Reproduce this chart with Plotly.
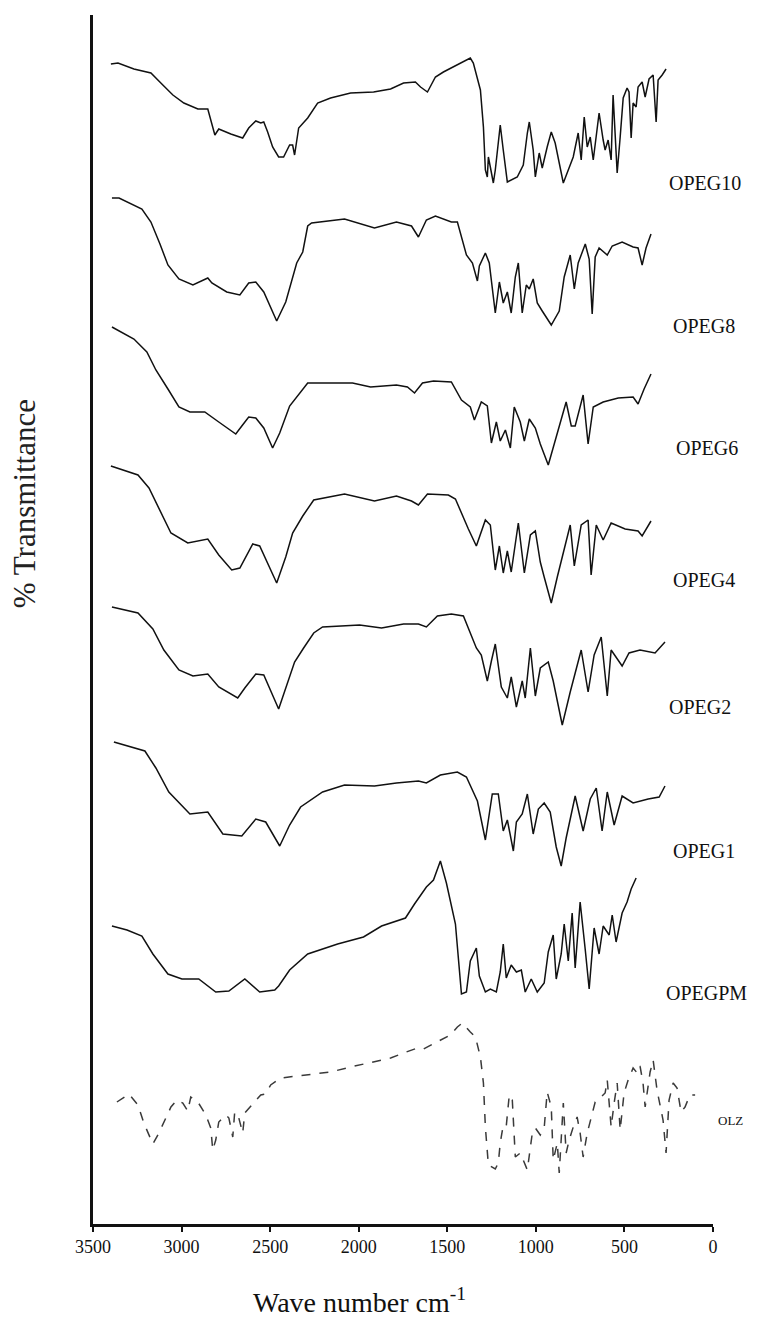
import plotly.graph_objects as go

# ---------------- data (wavenumber cm-1, stacked % transmittance units) ----------------
labels = ["OPEG10", "OPEG8", "OPEG6", "OPEG4", "OPEG2", "OPEG1", "OPEGPM", "OLZ"]

opeg10_wn = [3399, 3359, 3269, 3173, 3117, 3049, 2987, 2908, 2852, 2835, 2812, 2790, 2722, 2655, 2621, 2581, 2553, 2536, 2514, 2486, 2452, 2424, 2390, 2373, 2362, 2339, 2288, 2232, 2159, 2046, 1916, 1820, 1747, 1680, 1651, 1612, 1567, 1522, 1465, 1370, 1353, 1313, 1296, 1285, 1274, 1268, 1257, 1240, 1229, 1201, 1184, 1161, 1105, 1071, 1048, 1037, 1015, 1003, 981, 964, 936, 913, 891, 845, 789, 761, 744, 727, 710, 693, 676, 659, 643, 620, 609, 592, 575, 564, 541, 524, 507, 485, 474, 462, 451, 434, 423, 400, 383, 361, 338, 321, 310, 287, 265]
opeg10_t = [116.0, 116.1, 115.5, 115.1, 114.1, 112.9, 112.1, 111.5, 111.5, 110.4, 108.9, 109.5, 109.0, 108.6, 109.6, 110.3, 110.1, 110.2, 109.2, 107.7, 106.7, 106.7, 107.9, 107.9, 106.9, 109.6, 110.6, 112.1, 112.6, 113.1, 113.2, 113.5, 114.1, 114.2, 113.7, 113.2, 114.7, 115.2, 115.7, 116.6, 116.1, 113.4, 109.7, 105.4, 104.7, 106.7, 105.7, 104.1, 105.4, 109.9, 107.4, 104.2, 104.7, 105.9, 109.1, 110.2, 107.4, 104.7, 107.1, 105.6, 107.7, 109.2, 108.1, 104.1, 106.7, 109.1, 106.4, 110.7, 107.7, 108.7, 106.4, 108.7, 111.1, 108.4, 107.4, 108.4, 106.4, 112.9, 105.1, 108.7, 112.6, 113.6, 113.2, 108.6, 112.1, 111.7, 113.7, 114.2, 112.7, 114.5, 114.9, 110.2, 114.4, 114.9, 115.5]

opeg8_wn = [3393, 3353, 3224, 3173, 3122, 3077, 3015, 2936, 2852, 2829, 2745, 2671, 2621, 2581, 2536, 2463, 2412, 2350, 2316, 2288, 2266, 2080, 1911, 1787, 1702, 1663, 1618, 1567, 1477, 1443, 1392, 1358, 1330, 1319, 1285, 1263, 1229, 1206, 1184, 1161, 1139, 1116, 1099, 1077, 1054, 1037, 1015, 992, 964, 913, 868, 840, 806, 783, 761, 721, 699, 682, 665, 643, 597, 569, 513, 451, 423, 400, 378, 350]
opeg8_t = [102.6, 102.6, 101.5, 100.2, 98.0, 95.9, 94.5, 93.9, 94.6, 94.1, 93.2, 92.9, 94.1, 94.2, 93.2, 90.3, 92.2, 96.1, 97.2, 99.8, 100.1, 100.5, 99.6, 100.2, 99.8, 98.7, 100.4, 100.8, 100.2, 100.2, 96.9, 96.1, 94.3, 95.8, 97.1, 96.1, 91.1, 94.2, 92.1, 93.2, 91.1, 94.7, 96.1, 91.1, 93.9, 93.5, 94.5, 92.1, 91.3, 89.9, 91.3, 94.7, 96.9, 93.5, 96.1, 98.0, 96.5, 91.0, 96.7, 97.6, 96.9, 97.8, 98.2, 97.7, 97.6, 95.9, 97.6, 99.0]

opeg6_wn = [3393, 3269, 3196, 3145, 3077, 3015, 2953, 2869, 2790, 2694, 2660, 2621, 2581, 2536, 2486, 2446, 2390, 2362, 2316, 2288, 2035, 1933, 1787, 1725, 1685, 1640, 1578, 1477, 1420, 1370, 1347, 1308, 1274, 1251, 1223, 1201, 1172, 1144, 1122, 1088, 1065, 1037, 1003, 975, 930, 891, 829, 800, 778, 733, 705, 676, 620, 535, 451, 423, 389, 350]
opeg6_t = [89.7, 88.5, 87.2, 85.4, 83.5, 81.7, 81.2, 81.2, 80.2, 79.0, 79.8, 80.7, 80.6, 79.6, 77.6, 79.1, 81.8, 82.4, 83.5, 84.1, 84.1, 83.7, 83.9, 83.7, 83.1, 84.1, 84.3, 84.2, 82.4, 81.7, 80.4, 82.2, 81.8, 78.1, 80.2, 78.3, 79.4, 77.6, 81.7, 80.2, 78.3, 80.5, 79.6, 78.0, 75.9, 78.3, 82.2, 79.8, 79.8, 82.9, 78.0, 81.7, 82.2, 82.6, 82.7, 82.0, 83.5, 85.0]

opeg4_wn = [3399, 3246, 3184, 3122, 3060, 2965, 2852, 2790, 2717, 2671, 2598, 2559, 2463, 2412, 2373, 2316, 2254, 2080, 1911, 1787, 1702, 1663, 1612, 1494, 1454, 1381, 1336, 1285, 1257, 1229, 1206, 1184, 1161, 1139, 1099, 1065, 1031, 1003, 975, 953, 913, 879, 806, 783, 744, 705, 688, 659, 620, 575, 496, 423, 400, 350]
opeg4_t = [75.8, 74.9, 73.6, 71.4, 69.1, 68.1, 68.5, 66.9, 65.4, 65.6, 68.0, 67.8, 64.1, 66.7, 69.1, 70.8, 72.4, 73.0, 72.3, 72.8, 72.3, 71.9, 73.0, 72.9, 72.5, 69.5, 67.8, 70.4, 69.9, 65.4, 67.8, 65.1, 67.3, 65.2, 70.1, 65.1, 68.9, 69.3, 66.2, 64.7, 62.1, 64.7, 69.9, 65.8, 69.9, 70.4, 64.9, 69.9, 68.4, 70.1, 69.5, 69.3, 68.8, 70.3]

opeg2_wn = [3393, 3246, 3162, 3100, 3015, 2936, 2852, 2790, 2683, 2643, 2581, 2536, 2452, 2412, 2362, 2311, 2254, 2204, 1995, 1871, 1747, 1663, 1618, 1556, 1477, 1409, 1336, 1308, 1274, 1251, 1229, 1195, 1161, 1139, 1110, 1077, 1060, 1031, 1003, 975, 930, 902, 851, 806, 744, 705, 671, 631, 597, 575, 513, 474, 412, 327, 271]
opeg2_t = [61.7, 61.1, 59.5, 57.4, 55.4, 54.8, 55.0, 53.7, 52.6, 53.6, 55.0, 54.9, 51.5, 53.6, 56.2, 57.6, 59.1, 59.7, 59.9, 59.6, 60.0, 60.0, 59.7, 60.8, 61.0, 60.8, 57.6, 56.9, 54.3, 56.3, 58.0, 53.7, 52.6, 54.7, 51.7, 54.3, 52.6, 57.6, 52.8, 55.6, 56.2, 54.3, 49.9, 53.2, 57.4, 53.2, 56.9, 58.7, 52.8, 57.4, 55.8, 57.1, 57.4, 57.1, 58.2]

opeg1_wn = [3382, 3207, 3145, 3072, 2953, 2852, 2767, 2660, 2581, 2525, 2446, 2390, 2328, 2204, 2080, 1911, 1787, 1663, 1618, 1539, 1443, 1392, 1330, 1285, 1246, 1212, 1184, 1161, 1127, 1110, 1077, 1048, 1015, 986, 953, 919, 885, 857, 829, 778, 733, 693, 659, 626, 597, 558, 513, 451, 366, 304, 271]
opeg1_t = [48.2, 47.3, 45.6, 43.2, 41.0, 41.2, 39.0, 38.8, 40.5, 40.2, 37.8, 39.9, 41.7, 43.2, 43.9, 43.8, 44.1, 44.3, 44.1, 44.9, 45.2, 44.7, 42.3, 38.4, 43.0, 43.0, 39.3, 40.4, 37.3, 40.2, 41.0, 43.0, 39.0, 41.5, 42.1, 41.2, 37.7, 35.8, 38.6, 42.8, 39.3, 42.5, 43.6, 39.3, 43.2, 39.9, 42.8, 42.1, 42.5, 42.7, 43.8]

opegpm_wn = [3393, 3308, 3224, 3162, 3077, 2998, 2903, 2807, 2733, 2643, 2559, 2474, 2452, 2390, 2288, 2119, 1973, 1871, 1736, 1685, 1618, 1578, 1539, 1505, 1454, 1420, 1392, 1370, 1336, 1319, 1285, 1257, 1223, 1201, 1184, 1167, 1139, 1110, 1082, 1060, 1026, 992, 953, 930, 902, 885, 857, 840, 817, 795, 778, 750, 721, 699, 671, 643, 620, 586, 569, 547, 513, 485, 462, 434]
opegpm_t = [29.8, 29.4, 28.8, 27.0, 25.0, 24.5, 24.5, 23.2, 23.3, 24.5, 23.2, 23.4, 23.8, 25.4, 27.0, 28.0, 28.7, 29.8, 30.6, 32.0, 33.7, 34.4, 36.3, 34.1, 30.0, 23.0, 23.2, 26.3, 27.6, 24.8, 23.2, 23.5, 23.2, 25.2, 28.0, 24.6, 25.9, 25.2, 25.4, 23.2, 24.5, 23.2, 24.1, 27.2, 28.9, 24.5, 27.0, 30.0, 26.3, 31.1, 25.6, 32.2, 27.4, 23.5, 29.6, 27.0, 29.8, 28.9, 30.9, 28.2, 31.1, 32.2, 33.5, 34.6]

olz_wn = [3365, 3297, 3246, 3213, 3162, 3128, 3060, 3027, 2993, 2965, 2948, 2908, 2863, 2835, 2824, 2807, 2790, 2750, 2733, 2711, 2700, 2677, 2655, 2643, 2593, 2553, 2525, 2497, 2440, 2288, 2159, 2046, 1950, 1820, 1747, 1668, 1635, 1556, 1482, 1443, 1415, 1370, 1341, 1313, 1296, 1285, 1268, 1229, 1212, 1201, 1184, 1167, 1150, 1133, 1116, 1088, 1071, 1048, 1020, 1003, 975, 953, 936, 913, 902, 879, 868, 845, 829, 812, 789, 767, 750, 733, 710, 682, 665, 637, 609, 597, 575, 558, 541, 524, 502, 479, 451, 428, 412, 395, 383, 355, 338, 316, 299, 282, 265, 248, 225, 203, 180, 158, 130, 101]
olz_t = [12.2, 13.0, 11.9, 10.1, 8.0, 9.1, 11.7, 12.4, 12.1, 11.3, 12.7, 12.2, 10.9, 9.6, 7.4, 8.4, 10.2, 10.9, 10.6, 8.7, 11.2, 10.6, 9.1, 11.1, 12.1, 12.9, 13.0, 13.9, 14.6, 14.9, 15.2, 15.7, 16.1, 16.6, 17.1, 17.6, 17.5, 18.2, 18.9, 19.7, 20.1, 19.2, 18.7, 16.7, 14.1, 9.7, 5.9, 5.5, 6.1, 8.1, 9.9, 9.8, 12.9, 12.4, 6.7, 7.1, 6.4, 5.4, 9.1, 9.6, 8.9, 9.6, 13.2, 11.7, 6.4, 8.1, 5.1, 12.1, 7.1, 8.4, 9.7, 10.7, 9.1, 6.7, 9.1, 11.1, 12.2, 12.6, 13.1, 14.4, 9.7, 12.1, 14.1, 9.4, 13.1, 14.4, 15.6, 15.1, 15.8, 14.1, 11.7, 15.2, 16.4, 13.4, 11.7, 10.4, 7.1, 12.4, 14.1, 13.6, 11.2, 11.7, 12.9, 12.9]

x_ticks = [3500, 3000, 2500, 2000, 1500, 1000, 500, 0]

series = [
    (opeg10_wn, opeg10_t), (opeg8_wn, opeg8_t), (opeg6_wn, opeg6_t), (opeg4_wn, opeg4_t),
    (opeg2_wn, opeg2_t), (opeg1_wn, opeg1_t), (opegpm_wn, opegpm_t), (olz_wn, olz_t),
]

# label placement (paper x, data y)
label_pos = [(0.925, 104.1), (0.932, 89.8), (0.937, 77.6), (0.932, 64.4),
             (0.926, 51.7), (0.932, 37.3), (0.921, 23.1), (1.005, 10.4)]

fig = go.Figure()
for i, (wn, t) in enumerate(series):
    is_olz = labels[i] == "OLZ"
    fig.add_trace(go.Scatter(
        x=wn, y=t, mode="lines", name=labels[i],
        line=dict(color="#3a3a3a" if is_olz else "#111111",
                  width=1.5, dash="dash" if is_olz else "solid"),
        showlegend=False,
    ))

for i, name in enumerate(labels):
    px_, py_ = label_pos[i]
    fig.add_annotation(
        x=px_, y=py_, xref="paper", yref="y", text=name, showarrow=False,
        xanchor="left", yanchor="middle",
        font=dict(family="Liberation Serif", size=13 if name == "OLZ" else 20, color="#111"),
    )

fig.add_annotation(
    x=-0.11, y=0.596, xref="paper", yref="paper", text="% Transmittance", showarrow=False,
    textangle=-90, xanchor="center", yanchor="middle",
    font=dict(family="Liberation Serif", size=31, color="#222"),
)
fig.add_annotation(
    x=0.43, y=-0.063, xref="paper", yref="paper", text="Wave number cm<sup>-1</sup>",
    showarrow=False, xanchor="center", yanchor="middle",
    font=dict(family="Liberation Serif", size=28, color="#111"),
)

fig.update_layout(
    width=757, height=1323,
    margin=dict(l=93, r=44, t=15, b=99),
    paper_bgcolor="white", plot_bgcolor="white",
    xaxis=dict(
        range=[3500, 0], tickvals=x_ticks, ticktext=[str(v) for v in x_ticks],
        showline=True, linecolor="#111", linewidth=2.5, ticks="outside",
        ticklen=5, tickwidth=2, tickcolor="#111", showgrid=False, zeroline=False,
        tickfont=dict(family="Liberation Serif", size=18, color="#111"),
    ),
    yaxis=dict(
        range=[0, 120.9], showline=True, linecolor="#111", linewidth=3,
        showticklabels=False, ticks="", showgrid=False, zeroline=False,
    ),
)

fig.write_html("out.html")
